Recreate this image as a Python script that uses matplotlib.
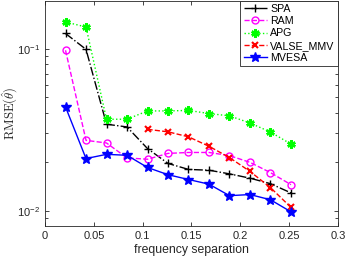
#!/usr/bin/env python3
"""RMSE of theta vs frequency separation, log-y, MATLAB-style look."""

import matplotlib
matplotlib.use("Agg")
import matplotlib.pyplot as plt

plt.rcParams["font.family"] = ["Liberation Sans", "DejaVu Sans"]
plt.rcParams["mathtext.fontset"] = "cm"

freq = [0.021, 0.042, 0.063, 0.084, 0.105, 0.126, 0.147, 0.168, 0.189, 0.210, 0.231, 0.252]

spa = [0.124, 0.099, 0.0342, 0.0329, 0.0242, 0.0196, 0.0180, 0.0178, 0.0169, 0.0159, 0.0147, 0.0129]
ram = [0.0977, 0.0272, 0.0262, 0.0212, 0.0208, 0.0226, 0.0229, 0.0229, 0.0219, 0.0199, 0.0172, 0.0145]
apg = [0.146, 0.136, 0.0367, 0.0367, 0.0413, 0.0413, 0.0416, 0.0398, 0.0385, 0.0348, 0.0306, 0.0258]
valse_freq = freq[4:]
valse = [0.0318, 0.0307, 0.0286, 0.0250, 0.0213, 0.0175, 0.0139, 0.0105]
mvesa = [0.0437, 0.0210, 0.0223, 0.0220, 0.0185, 0.0167, 0.0156, 0.0146, 0.0124, 0.0126, 0.0117, 0.00986]

AX_COLOR = "#262626"


def main() -> None:
    fig = plt.figure(figsize=(3.49, 2.62), dpi=100)
    ax = fig.add_axes([0.129, 0.137, 0.839, 0.861])

    ax.plot(freq, spa, color="black", linestyle="-.", marker="+", markersize=6,
            markeredgewidth=1.0, linewidth=1.0, label="SPA")
    ax.plot(freq, ram, color="#ff00ff", linestyle="--", marker="o", markersize=5,
            markerfacecolor="none", markeredgewidth=1.0, linewidth=1.0, label="RAM")
    ax.plot(freq, apg, color="#00ff00", linestyle=":", marker=(6, 2, 0), markersize=6,
            markeredgewidth=1.8, linewidth=1.0, label="APG")
    ax.plot(valse_freq, valse, color="#ff0000", linestyle="--", marker="x", markersize=4,
            markeredgewidth=1.5, linewidth=1.0, label="VALSE_MMV")
    ax.plot(freq, mvesa, color="#0000ff", linestyle="-", marker="*", markersize=7,
            linewidth=1.0, label="MVESA")

    ax.set_yscale("log")
    ax.set_xlim(0, 0.3)
    ax.set_ylim(0.00805, 0.198)
    ax.set_xticks([0, 0.05, 0.1, 0.15, 0.2, 0.25, 0.3])
    ax.set_xticklabels(["0", "0.05", "0.1", "0.15", "0.2", "0.25", "0.3"])

    ax.tick_params(which="both", direction="in", top=True, right=True,
                   colors=AX_COLOR, labelsize=8, width=0.6)
    ax.tick_params(which="major", length=3)
    ax.tick_params(which="minor", length=2)
    for sp in ax.spines.values():
        sp.set_color(AX_COLOR)
        sp.set_linewidth(0.6)

    ax.set_xlabel("frequency separation", fontsize=8.8, color=AX_COLOR, labelpad=2)
    ax.set_ylabel(r"$\mathrm{RMSE}(\hat{\theta})$", fontsize=9.2, color=AX_COLOR,
                  va="center")
    ax.yaxis.set_label_coords(-0.12, 0.5)

    leg = ax.legend(loc="upper right", fontsize=7.7, fancybox=False, framealpha=1,
                    edgecolor=AX_COLOR, borderpad=0.3, labelspacing=0.22,
                    handlelength=2.2, handletextpad=0.3, borderaxespad=0.0)
    leg.get_frame().set_linewidth(0.6)

    fig.savefig("out.png", dpi=100)
    plt.close("all")


if __name__ == "__main__":
    main()
